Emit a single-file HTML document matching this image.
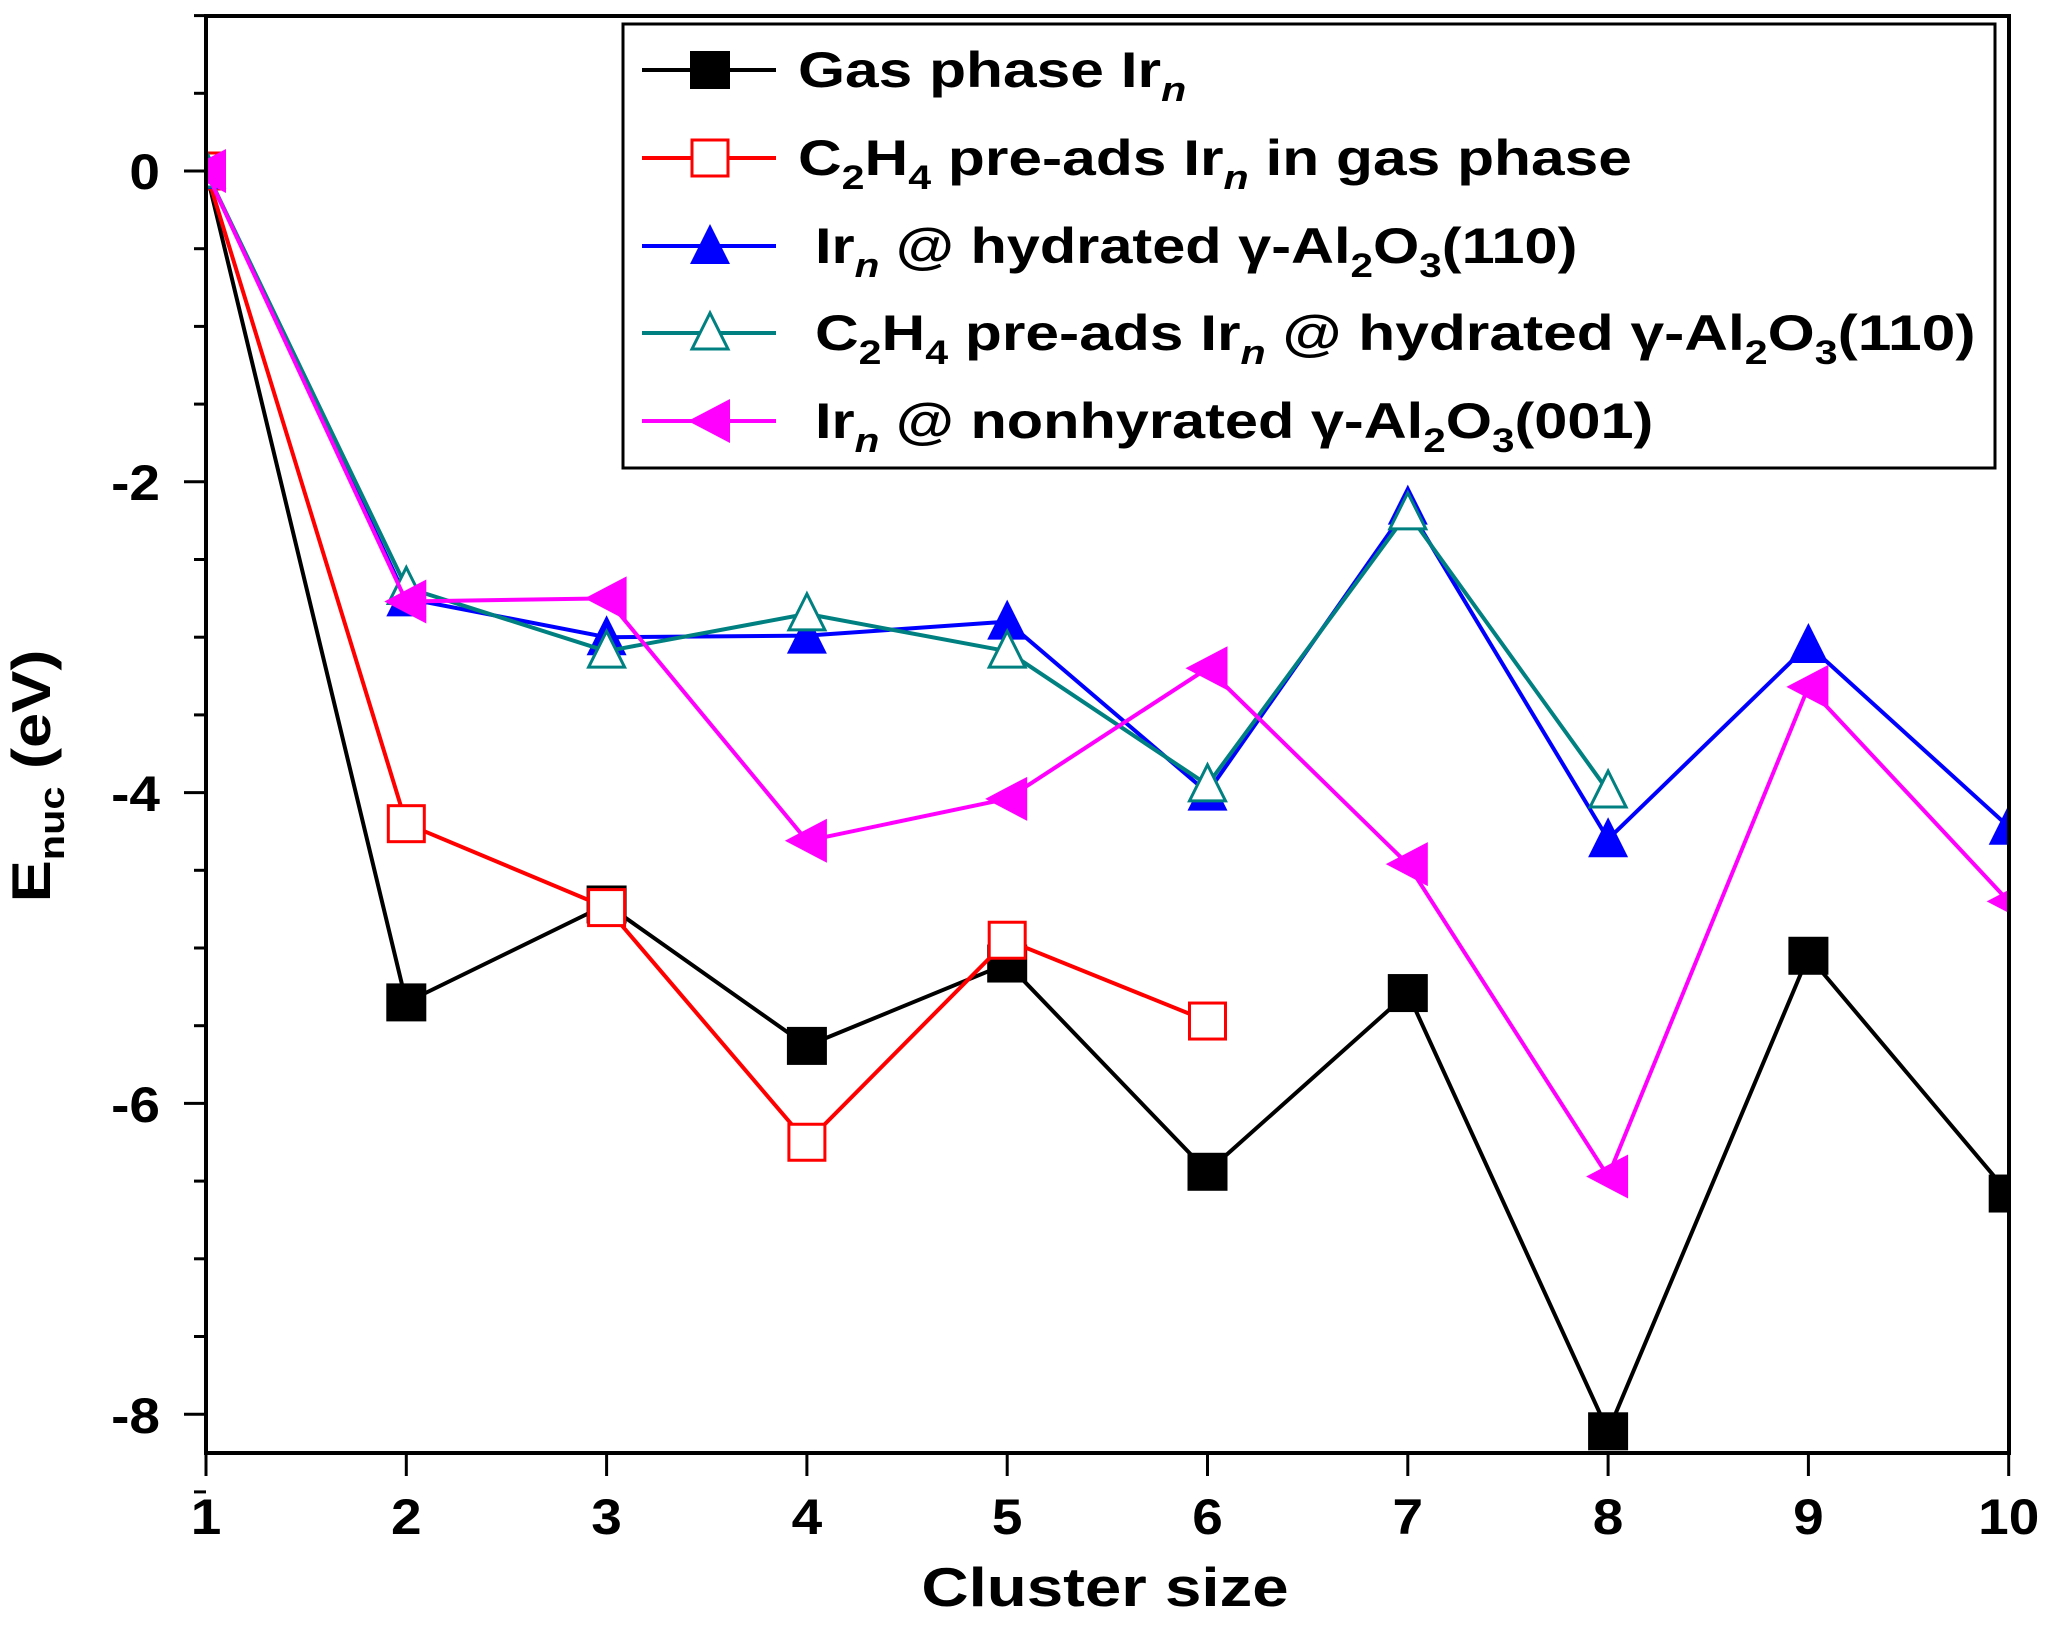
<!DOCTYPE html>
<html><head><meta charset="utf-8"><style>
html,body{margin:0;padding:0;background:#fff;}
svg{display:block;font-family:"Liberation Sans",Arial,sans-serif;font-weight:bold;}
</style></head><body>
<svg id="s" width="2051" height="1642" viewBox="0 0 2051 1642" xmlns="http://www.w3.org/2000/svg">
<rect width="2051" height="1642" fill="#fff"/>
<g id="plot"></g>
<rect x="206" y="16" width="1803" height="1437" fill="none" stroke="#000" stroke-width="4"/>
<g font-size="50" text-anchor="end" transform="translate(160,0) scale(1.1,1) translate(-160,0)">
<text x="160" y="189">0</text>
<text x="160" y="500">-2</text>
<text x="160" y="811">-4</text>
<text x="160" y="1122">-6</text>
<text x="160" y="1433">-8</text>
</g>
<g font-size="50" text-anchor="middle" id="xl"></g>
<text x="1105" y="1606" font-size="55" text-anchor="middle" transform="translate(1105,0) scale(1.19,1) translate(-1105,0)">Cluster size</text>
<text transform="translate(50,776) rotate(-90) scale(1.15,1)" font-size="55" text-anchor="middle">E<tspan font-size="36" dy="14">nuc</tspan><tspan dy="-14"> (eV)</tspan></text>
<rect x="623" y="24" width="1372" height="444" fill="#fff" stroke="#000" stroke-width="3"/>
<g id="leg"></g>
<g font-size="50">
<text x="798" y="87" transform="translate(798,0) scale(1.21,1) translate(-798,0)">Gas phase Ir<tspan font-style="italic" font-size="34" dy="14">n</tspan></text>
<text x="798" y="175" transform="translate(798,0) scale(1.21,1) translate(-798,0)">C<tspan font-size="34" dy="14">2</tspan><tspan dy="-14">H</tspan><tspan font-size="34" dy="14">4</tspan><tspan dy="-14"> pre-ads Ir</tspan><tspan font-style="italic" font-size="34" dy="14">n</tspan><tspan dy="-14"> in gas phase</tspan></text>
<text x="815" y="263" transform="translate(815,0) scale(1.19,1) translate(-815,0)">Ir<tspan font-style="italic" font-size="34" dy="14">n</tspan><tspan dy="-14"> @ hydrated γ-Al</tspan><tspan font-size="34" dy="14">2</tspan><tspan dy="-14">O</tspan><tspan font-size="34" dy="14">3</tspan><tspan dy="-14">(110)</tspan></text>
<text x="815" y="350" transform="translate(815,0) scale(1.21,1) translate(-815,0)">C<tspan font-size="34" dy="14">2</tspan><tspan dy="-14">H</tspan><tspan font-size="34" dy="14">4</tspan><tspan dy="-14"> pre-ads  Ir</tspan><tspan font-style="italic" font-size="34" dy="14">n</tspan><tspan dy="-14"> @ hydrated γ-Al</tspan><tspan font-size="34" dy="14">2</tspan><tspan dy="-14">O</tspan><tspan font-size="34" dy="14">3</tspan><tspan dy="-14">(110)</tspan></text>
<text x="815" y="438" transform="translate(815,0) scale(1.19,1) translate(-815,0)">Ir<tspan font-style="italic" font-size="34" dy="14">n</tspan><tspan dy="-14"> @ nonhyrated γ-Al</tspan><tspan font-size="34" dy="14">2</tspan><tspan dy="-14">O</tspan><tspan font-size="34" dy="14">3</tspan><tspan dy="-14">(001)</tspan></text>
</g>
</svg>
<script>
var NS="http://www.w3.org/2000/svg";
function X(n){return 206+(n-1)*200.3;}
function Y(v){return 171-v*155.4;}
function el(p,t,a){var e=document.createElementNS(NS,t);for(var k in a)e.setAttribute(k,a[k]);p.appendChild(e);return e;}
var plot=document.getElementById('plot');
for(var v=1;v>=-8.5;v-=0.5){var maj=Math.abs(v-Math.round(v/2)*2)<1e-6;el(plot,'line',{x1:206-(maj?22:12),x2:206,y1:Y(v),y2:Y(v),stroke:'#000','stroke-width':3});}
var xl=document.getElementById('xl');
for(var n=1;n<=10;n++){el(plot,'line',{x1:X(n),x2:X(n),y1:1453,y2:1476,stroke:'#000','stroke-width':3});var t=el(xl,'text',{x:X(n),y:1534,transform:'translate('+X(n)+',0) scale(1.1,1) translate('+(-X(n))+',0)'});t.textContent=n;}
function marker(g,type,x,y,col,s){
 s=s||20;
 if(type=='sq')el(g,'rect',{x:x-s,y:y-s*0.95,width:2*s,height:1.9*s,fill:col});
 if(type=='osq')el(g,'rect',{x:x-s+2,y:y-s+2,width:2*s-4,height:2*s-4,fill:'#fff',stroke:col,'stroke-width':3});
 if(type=='tri')el(g,'polygon',{points:(x)+','+(y-s-2)+' '+(x-s)+','+(y+s-2)+' '+(x+s)+','+(y+s-2),fill:col});
 if(type=='otri')el(g,'polygon',{points:(x)+','+(y-s)+' '+(x-s+2)+','+(y+s-4)+' '+(x+s-2)+','+(y+s-4),fill:'#fff',stroke:col,'stroke-width':3});
 if(type=='ltri')el(g,'polygon',{points:(x-s-2)+','+(y)+' '+(x+s)+','+(y-s-2)+' '+(x+s)+','+(y+s+2),fill:col});
}
var series=[
 {c:'#000',m:'sq',d:[0,-5.35,-4.72,-5.63,-5.10,-6.44,-5.29,-8.11,-5.05,-6.58]},
 {c:'#ff0000',m:'osq',d:[0,-4.20,-4.74,-6.25,-4.95,-5.47]},
 {c:'#0000ff',m:'tri',d:[0,-2.75,-3.0,-2.99,-2.90,-4.0,-2.16,-4.30,-3.05,-4.22]},
 {c:'#008080',m:'otri',d:[0,-2.68,-3.09,-2.85,-3.09,-3.95,-2.20,-3.99]},
 {c:'#ff00ff',m:'ltri',d:[0,-2.77,-2.75,-4.31,-4.04,-3.20,-4.46,-6.47,-3.32,-4.70]}
];
var clip=el(plot,'clipPath',{id:'c'});el(clip,'rect',{x:206,y:16,width:1803,height:1437});
series.forEach(function(s){
 var g=el(plot,'g',{'clip-path':'url(#c)'});
 var pts=s.d.map(function(v,i){return X(i+1)+','+Y(v);}).join(' ');
 el(g,'polyline',{points:pts,fill:'none',stroke:s.c,'stroke-width':4,'stroke-linejoin':'round'});
 s.d.forEach(function(v,i){marker(g,s.m,X(i+1),Y(v),s.c);});
});
var leg=document.getElementById('leg');
var ly=[70,158,246,333,421];
series.forEach(function(s,i){
 el(leg,'line',{x1:642,x2:776,y1:ly[i],y2:ly[i],stroke:s.c,'stroke-width':4});
 marker(leg,s.m,710,ly[i],s.c);
});
</script>
</body></html>
